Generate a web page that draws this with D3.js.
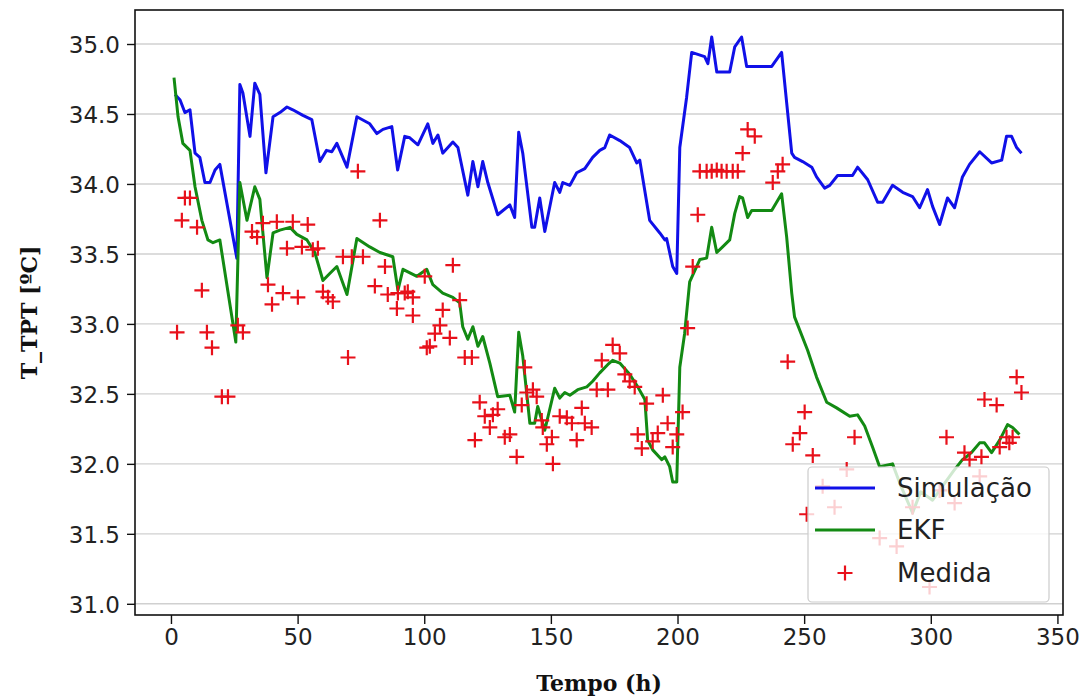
<!DOCTYPE html>
<html>
<head>
<meta charset="utf-8">
<script src="https://cdn.jsdelivr.net/npm/d3@7"></script>
<style>
  html, body { margin: 0; padding: 0; background: #fff; }
  svg { display: block; }
</style>
</head>
<body>
<svg id="chart" width="1089" height="699"></svg>
<script>
// ---- Data ----
const simTime = [1.6, 3.6, 5.5, 7.5, 9.5, 11.4, 13.4, 15.4, 17.4, 19.3, 26, 27.2, 28.4, 31.2, 33.1, 35.1, 37.5, 40.3, 43, 45.8, 48.1, 52.1, 55.6, 58.8, 61.4, 63.5, 65.5, 69.5, 73.4, 78.5, 81.3, 83.7, 87.2, 89.5, 92.3, 94.3, 97.5, 101.4, 103.4, 105.4, 107.3, 111.3, 113.3, 117.2, 119.2, 121.2, 123.1, 125.1, 129, 133.8, 135.7, 137.3, 138.9, 142.5, 143.6, 145.6, 147.6, 151.5, 153.5, 154.7, 157.5, 160.2, 163.4, 166.5, 169.3, 171.3, 173.2, 177.2, 181.1, 183.9, 185.1, 189, 193, 195, 195.7, 198.1, 199.7, 200.9, 203.6, 205.6, 210.7, 212, 213.5, 215.5, 220.6, 222.6, 225.3, 227.3, 237.2, 241.1, 243.1, 245.1, 246.2, 249.4, 253, 254.9, 258.1, 260.1, 263.2, 269.1, 271.1, 275.1, 279, 281, 284.9, 288.9, 292.8, 295.6, 298.7, 300.7, 303.5, 306.6, 309.4, 312.5, 315.3, 319.3, 324, 328, 329.9, 331.9, 333.9, 335.8];
const simValues = [34.64, 34.60, 34.51, 34.53, 34.22, 34.19, 34.01, 34.01, 34.10, 34.14, 33.47, 34.71, 34.65, 34.34, 34.72, 34.64, 34.08, 34.48, 34.51, 34.55, 34.53, 34.49, 34.46, 34.16, 34.24, 34.23, 34.29, 34.12, 34.48, 34.43, 34.36, 34.39, 34.41, 34.10, 34.34, 34.33, 34.28, 34.43, 34.29, 34.35, 34.22, 34.30, 34.26, 33.92, 34.16, 33.98, 34.16, 34.01, 33.78, 33.85, 33.76, 34.37, 34.22, 33.69, 33.69, 33.90, 33.66, 34.01, 33.94, 34.01, 33.99, 34.08, 34.11, 34.19, 34.24, 34.26, 34.35, 34.31, 34.26, 34.15, 34.17, 33.74, 33.65, 33.60, 33.61, 33.41, 33.36, 34.26, 34.62, 34.94, 34.91, 34.86, 35.05, 34.80, 34.80, 34.98, 35.05, 34.84, 34.84, 34.94, 34.58, 34.22, 34.19, 34.16, 34.12, 34.05, 33.97, 33.99, 34.06, 34.06, 34.12, 34.03, 33.87, 33.87, 33.99, 33.94, 33.91, 33.83, 33.96, 33.84, 33.71, 33.90, 33.83, 34.05, 34.14, 34.23, 34.15, 34.17, 34.34, 34.34, 34.26, 34.22];

const ekfTime = [1.2, 2.8, 4.7, 7.5, 9.5, 12.2, 14.6, 16.6, 19.3, 25.6, 27.2, 30, 33.1, 35.1, 37.9, 40.3, 43, 47, 49.7, 53.7, 56.8, 60, 62.7, 65.5, 69.5, 73.4, 78.5, 82.5, 87.6, 89.6, 91.6, 97.1, 101, 103.4, 107.3, 111.3, 114, 115.2, 117.2, 119.2, 121.2, 123.1, 125.9, 129, 133.8, 135.7, 137.3, 138.9, 141.7, 143.6, 144.8, 147.6, 151.5, 153.5, 155.5, 157.5, 160.6, 164.2, 166.5, 169.3, 172.5, 174.4, 177.2, 181.1, 184.3, 187.1, 188.2, 190.2, 193.8, 195, 196.9, 198.1, 199.7, 200.9, 202.8, 204.8, 208.8, 211.5, 213.5, 215.5, 217.8, 220.6, 222.6, 224.5, 225.7, 227.7, 229.3, 237.2, 241.1, 243.1, 245.1, 246.2, 251.4, 254.9, 258.9, 262.8, 268, 271.1, 273.9, 277, 279.8, 284.9, 288, 292.8, 296, 300.7, 305, 309, 312.5, 314, 316, 319.3, 321.2, 324, 327.2, 330.3, 332.3, 335];
const ekfValues = [34.76, 34.48, 34.29, 34.24, 33.98, 33.74, 33.60, 33.58, 33.60, 32.87, 34.01, 33.74, 33.98, 33.89, 33.33, 33.65, 33.67, 33.69, 33.64, 33.60, 33.51, 33.31, 33.36, 33.41, 33.21, 33.61, 33.55, 33.51, 33.48, 33.24, 33.39, 33.34, 33.39, 33.28, 33.22, 33.19, 33.15, 32.98, 32.89, 32.98, 32.84, 32.91, 32.72, 32.48, 32.49, 32.37, 32.94, 32.77, 32.29, 32.29, 32.41, 32.24, 32.54, 32.47, 32.51, 32.49, 32.53, 32.55, 32.59, 32.65, 32.71, 32.74, 32.72, 32.64, 32.55, 32.46, 32.17, 32.10, 32.03, 32.05, 31.98, 31.87, 31.87, 32.69, 32.93, 33.30, 33.46, 33.47, 33.69, 33.51, 33.55, 33.60, 33.79, 33.91, 33.90, 33.76, 33.81, 33.81, 33.93, 33.62, 33.22, 33.05, 32.81, 32.62, 32.44, 32.40, 32.34, 32.35, 32.27, 32.12, 31.98, 32.00, 31.85, 31.65, 31.80, 31.74, 31.85, 31.95, 32.03, 32.05, 32.08, 32.15, 32.15, 32.08, 32.17, 32.28, 32.26, 32.21];

const medTime = [2.4, 4.3, 5.5, 7.5, 10.3, 12.2, 14.2, 16.2, 20.1, 22.5, 26.4, 28.4, 32.0, 34.0, 36.3, 38.3, 39.9, 41.8, 44.2, 45.8, 48.1, 50.1, 51.7, 54.0, 56.0, 58.0, 60.0, 62.0, 63.9, 67.9, 69.9, 71.4, 73.8, 75.8, 80.5, 82.5, 84.5, 85.6, 89.2, 89.6, 92.3, 93.5, 95.5, 95.5, 100.2, 101.0, 102.2, 104.2, 106.2, 107.3, 110.1, 111.3, 114.0, 116.0, 118.8, 120.0, 121.9, 123.9, 125.9, 127.1, 129.0, 131.8, 133.8, 136.5, 138.5, 139.7, 140.5, 142.9, 144.4, 146.4, 146.8, 148.4, 150.4, 150.8, 153.5, 156.3, 158.3, 160.2, 162.2, 163.4, 166.1, 168.1, 170.1, 172.5, 174.4, 177.2, 179.2, 181.1, 183.1, 184.3, 185.9, 187.8, 190.2, 192.2, 194.2, 196.1, 198.1, 199.7, 202.0, 204.0, 206.0, 208.0, 208.8, 211.5, 213.5, 215.5, 217.4, 219.4, 221.8, 223.8, 225.7, 227.7, 230.5, 237.6, 239.6, 241.5, 243.5, 245.5, 248.3, 250.2, 251.0, 253.4, 257.3, 262.0, 266.8, 269.9, 279.8, 286.5, 292.8, 299.5, 303.5, 306.2, 309.4, 313.3, 315.3, 319.3, 320.0, 321.2, 326.0, 327.2, 329.9, 331.0, 332.3, 333.9, 335.8];
const medValues = [32.94, 33.74, 33.90, 33.90, 33.69, 33.24, 32.94, 32.83, 32.48, 32.48, 32.99, 32.94, 33.66, 33.62, 33.72, 33.28, 33.14, 33.73, 33.22, 33.54, 33.73, 33.19, 33.55, 33.71, 33.53, 33.54, 33.23, 33.19, 33.16, 33.48, 32.76, 33.48, 34.09, 33.48, 33.27, 33.74, 33.41, 33.21, 33.11, 33.22, 33.22, 33.23, 33.19, 33.06, 33.34, 32.83, 32.84, 32.93, 32.99, 33.10, 32.90, 33.42, 33.17, 32.76, 32.76, 32.17, 32.44, 32.34, 32.26, 32.35, 32.39, 32.19, 32.21, 32.05, 32.42, 32.69, 32.51, 32.53, 32.48, 32.31, 32.26, 32.14, 32.19, 32.00, 32.34, 32.33, 32.29, 32.17, 32.40, 32.29, 32.26, 32.53, 32.74, 32.53, 32.85, 32.79, 32.64, 32.59, 32.55, 32.21, 32.11, 32.43, 32.16, 32.22, 32.49, 32.29, 32.12, 32.21, 32.37, 32.97, 33.41, 33.78, 34.09, 34.09, 34.09, 34.10, 34.09, 34.09, 34.09, 34.09, 34.22, 34.39, 34.34, 34.01, 34.09, 34.14, 32.73, 32.14, 32.22, 32.37, 31.64, 32.06, 31.84, 31.69, 31.96, 32.19, 31.47, 31.41, 31.69, 31.12, 31.81, 32.19, 31.72, 32.08, 32.03, 31.91, 32.05, 32.46, 32.42, 32.12, 32.19, 32.15, 32.19, 32.62, 32.51];

const xTicks = [0, 50, 100, 150, 200, 250, 300, 350];
const yTicks = [31.0, 31.5, 32.0, 32.5, 33.0, 33.5, 34.0, 34.5, 35.0];
const legendLabels = ["Simulação", "EKF", "Medida"];
const xLabel = "Tempo (h)";
const yLabel = "T_TPT [ºC]";

// ---- Layout ----
const L = 135, R = 1063, T = 10, B = 615;
const svg = d3.select("#chart");

const x = d3.scaleLinear().domain([-14.2, 352.2]).range([L, R]);
const y = d3.scaleLinear().domain([30.92, 35.243]).range([B, T]);

// grid
svg.append("g").selectAll("line").data(yTicks).join("line")
  .attr("x1", L).attr("x2", R)
  .attr("y1", d => y(d)).attr("y2", d => y(d))
  .attr("stroke", "#d0d0d0").attr("stroke-width", 1.4);

// clip
svg.append("clipPath").attr("id", "clip").append("rect")
  .attr("x", L).attr("y", T).attr("width", R - L).attr("height", B - T);

const plot = svg.append("g").attr("clip-path", "url(#clip)");

const line = d3.line().x(d => x(d[0])).y(d => y(d[1]));

plot.append("path")
  .datum(simTime.map((t, i) => [t, simValues[i]]))
  .attr("d", line).attr("fill", "none")
  .attr("stroke", "#1010e8").attr("stroke-width", 3).attr("stroke-linejoin", "round");

plot.append("path")
  .datum(ekfTime.map((t, i) => [t, ekfValues[i]]))
  .attr("d", line).attr("fill", "none")
  .attr("stroke", "#138a13").attr("stroke-width", 3).attr("stroke-linejoin", "round");

const ms = 7.5;
const marks = plot.append("g");
medTime.forEach((t, i) => {
  const cx = x(t), cy = y(medValues[i]);
  marks.append("path")
    .attr("d", `M${cx - ms},${cy}H${cx + ms}M${cx},${cy - ms}V${cy + ms}`)
    .attr("stroke", "#e8101a").attr("stroke-width", 2.2).attr("fill", "none");
});

// axes frame
svg.append("rect").attr("x", L).attr("y", T).attr("width", R - L).attr("height", B - T)
  .attr("fill", "none").attr("stroke", "#111").attr("stroke-width", 1.6);

const xAxis = svg.append("g").attr("transform", `translate(0,${B})`)
  .call(d3.axisBottom(x).tickValues(xTicks).tickSize(9).tickPadding(5).tickFormat(d3.format("d")));
const yAxis = svg.append("g").attr("transform", `translate(${L},0)`)
  .call(d3.axisLeft(y).tickValues(yTicks).tickSize(8).tickPadding(7).tickFormat(d3.format(".1f")));

[xAxis, yAxis].forEach(a => {
  a.select(".domain").remove();
  a.selectAll(".tick line").attr("stroke", "#111").attr("stroke-width", 1.4);
  a.selectAll(".tick text").attr("font-family", "DejaVu Sans").attr("font-size", 23).attr("fill", "#222");
});
yAxis.selectAll(".tick text").attr("dy", "0.36em");

// axis labels
svg.append("text").attr("x", (L + R) / 2).attr("y", 691)
  .attr("text-anchor", "middle").attr("font-family", "DejaVu Serif").attr("font-weight", "bold")
  .attr("font-size", 22).attr("fill", "#111").text(xLabel);
svg.append("text").attr("transform", `translate(37,${(T + B) / 2}) rotate(-90)`)
  .attr("text-anchor", "middle").attr("font-family", "DejaVu Serif").attr("font-weight", "bold")
  .attr("font-size", 22).attr("fill", "#111").text(yLabel);

// legend
const lg = svg.append("g");
lg.append("rect").attr("x", 808).attr("y", 467).attr("width", 241).attr("height", 135)
  .attr("rx", 4).attr("fill", "#fff").attr("fill-opacity", 0.8)
  .attr("stroke", "#cccccc").attr("stroke-width", 1.2);
const rowsY = [488, 530, 573];
lg.append("line").attr("x1", 815).attr("x2", 875).attr("y1", rowsY[0]).attr("y2", rowsY[0])
  .attr("stroke", "#1010e8").attr("stroke-width", 3);
lg.append("line").attr("x1", 815).attr("x2", 875).attr("y1", rowsY[1]).attr("y2", rowsY[1])
  .attr("stroke", "#138a13").attr("stroke-width", 3);
lg.append("path").attr("d", `M${845 - ms},${rowsY[2]}H${845 + ms}M845,${rowsY[2] - ms}V${rowsY[2] + ms}`)
  .attr("stroke", "#e8101a").attr("stroke-width", 2.2);
legendLabels.forEach((t, i) => {
  lg.append("text").attr("x", 897).attr("y", rowsY[i]).attr("dy", "0.36em")
    .attr("font-family", "DejaVu Sans").attr("font-size", 26).attr("fill", "#222").text(t);
});
</script>
</body>
</html>
